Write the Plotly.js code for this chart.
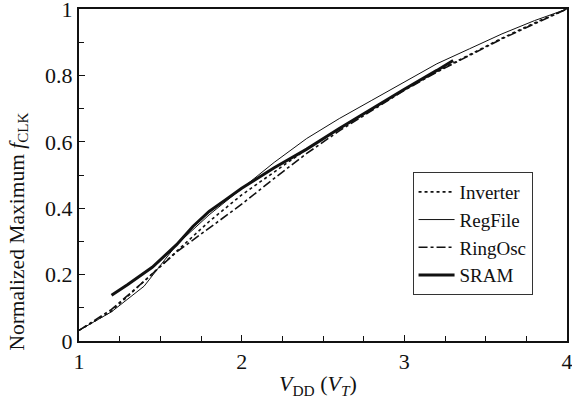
<!DOCTYPE html>
<html>
<head>
<meta charset="utf-8">
<script src="https://cdn.plot.ly/plotly-3.0.1.min.js"></script>
<style>html,body{margin:0;padding:0;background:#fff;}#chart{width:572px;height:407px;}</style>
</head>
<body>
<div id="chart"></div>
<script>
const seriesNames = ["Inverter", "RegFile", "RingOsc", "SRAM"];

const vddGrid = [1.0, 1.2, 1.4, 1.6, 1.8, 2.0, 2.2, 2.4, 2.6, 2.8, 3.0, 3.2, 3.4, 3.6, 3.8, 4.0];
const inverterF = [0.032, 0.090, 0.180, 0.270, 0.360, 0.440, 0.510, 0.578, 0.640, 0.700, 0.758, 0.812, 0.862, 0.912, 0.958, 1.0];
const regfileF  = [0.032, 0.088, 0.165, 0.290, 0.380, 0.460, 0.538, 0.610, 0.670, 0.725, 0.780, 0.835, 0.880, 0.925, 0.965, 1.0];
const ringoscF  = [0.032, 0.095, 0.180, 0.268, 0.340, 0.412, 0.490, 0.565, 0.633, 0.695, 0.755, 0.810, 0.860, 0.910, 0.955, 1.0];

const sramVdd = [1.2, 1.3, 1.45, 1.5, 1.6, 1.7, 1.8, 1.9, 2.0, 2.2, 2.4, 2.6, 2.8, 3.0, 3.2, 3.3];
const sramF   = [0.138, 0.170, 0.222, 0.245, 0.290, 0.345, 0.390, 0.425, 0.460, 0.522, 0.578, 0.640, 0.700, 0.758, 0.815, 0.845];

const xTickVals = [1, 2, 3, 4];
const yTickVals = [0, 0.2, 0.4, 0.6, 0.8, 1];
const yTickText = ["0", "0.2", "0.4", "0.6", "0.8", "1"];

const xTitle = "<i>V</i><sub>DD</sub> (<i>V</i><sub><i>T</i></sub>)";
const yTitle = "Normalized Maximum <i>f</i><sub>CLK</sub>";

const ink = "#111";
const traces = [
  {x: vddGrid, y: inverterF, name: seriesNames[0], mode: "lines", line: {color: ink, width: 1.6, dash: "dot"}},
  {x: vddGrid, y: regfileF, name: seriesNames[1], mode: "lines", line: {color: ink, width: 1}},
  {x: vddGrid, y: ringoscF, name: seriesNames[2], mode: "lines", line: {color: ink, width: 1.6, dash: "dashdot"}},
  {x: sramVdd, y: sramF, name: seriesNames[3], mode: "lines", line: {color: ink, width: 3}}
];

function serif(size) { return {family: "Liberation Serif", size: size, color: ink}; }

const layout = {
  width: 572, height: 407,
  margin: {l: 79, r: 5, t: 9, b: 66},
  paper_bgcolor: "#fff", plot_bgcolor: "#fff",
  font: serif(20),
  showlegend: true,
  legend: {
    x: 0.6835, y: 0.509, xanchor: "left", yanchor: "top",
    bordercolor: "#333", borderwidth: 1, bgcolor: "#fff",
    font: serif(19), itemwidth: 36, tracegroupgap: 0
  },
  xaxis: {
    range: [1, 4], showgrid: false, zeroline: false,
    showline: true, linecolor: ink, linewidth: 2, mirror: true,
    tickmode: "array", tickvals: xTickVals, ticktext: xTickVals.map(String),
    ticks: "inside", ticklen: 6, tickwidth: 1, tickcolor: ink,
    ticklabeloverflow: "allow", automargin: false,
    tickfont: serif(22),
    minor: {dtick: 0.25, tick0: 1, ticks: "inside", ticklen: 5, tickwidth: 1, tickcolor: ink, showgrid: false}
  },
  yaxis: {
    range: [0, 1], showgrid: false, zeroline: false,
    showline: true, linecolor: ink, linewidth: 2, mirror: true,
    tickmode: "array", tickvals: yTickVals, ticktext: yTickText,
    ticks: "inside", ticklen: 6, tickwidth: 1, tickcolor: ink,
    ticklabeloverflow: "allow", automargin: false,
    tickfont: serif(22),
    minor: {dtick: 0.1, tick0: 0, ticks: "inside", ticklen: 5, tickwidth: 1, tickcolor: ink, showgrid: false}
  },
  annotations: [
    {text: xTitle, xref: "paper", yref: "paper", x: 0.489, y: -0.1325, xanchor: "center", yanchor: "middle",
     showarrow: false, font: serif(22)},
    {text: yTitle, xref: "paper", yref: "paper", x: -0.1247, y: 0.33, xanchor: "center", yanchor: "middle",
     textangle: -90, showarrow: false, font: serif(21.5)}
  ]
};

Plotly.newPlot("chart", traces, layout, {displayModeBar: false, staticPlot: true});
</script>
</body>
</html>
